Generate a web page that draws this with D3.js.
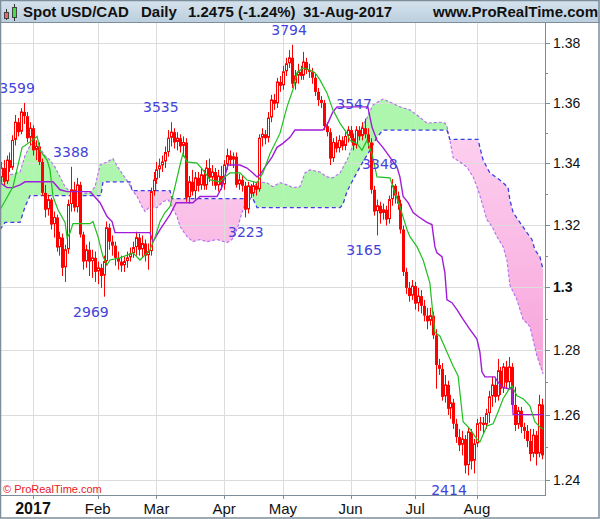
<!DOCTYPE html>
<html><head><meta charset="utf-8">
<script src="https://cdn.jsdelivr.net/npm/d3@7"></script>
<style>html,body{margin:0;padding:0;background:#fff;}svg{display:block;}</style>
</head><body>
<script>
// ---------- DATA ----------
// trading days run from 16-Dec-2016 to 31-Aug-2017 (index 0 = 2-Jan-2017, Dec days negative)
const opens = [1.3352,1.3384,1.3339,1.3410,1.3384,1.3475,1.3535,1.3502,1.3569,1.3555,1.3482,
1.3515,1.3442,1.3455,1.3404,1.3303,1.3248,1.3281,1.3200,1.3223,1.3126,
1.3158,1.3061,1.3119,1.3265,1.3313,1.3255,1.3329,1.3168,1.3081,1.3119,
1.3081,1.3093,1.3048,1.3061,1.3035,1.3081,1.3190,1.3145,1.3132,1.3093,
1.3081,1.3068,1.3081,1.3093,1.3106,1.3126,1.3158,1.3119,1.3139,1.3100,
1.3113,1.3307,1.3345,1.3378,1.3391,1.3404,1.3435,1.3482,1.3502,1.3468,
1.3482,1.3455,1.3468,1.3287,1.3339,1.3307,1.3352,1.3326,1.3362,1.3326,
1.3384,1.3352,1.3371,1.3326,1.3358,1.3329,1.3394,1.3425,1.3410,1.3421,
1.3329,1.3345,1.3326,1.3248,1.3326,1.3300,1.3326,1.3313,1.3482,1.3495,
1.3482,1.3549,1.3609,1.3596,1.3669,1.3656,1.3703,1.3730,1.3750,1.3663,
1.3689,1.3703,1.3689,1.3736,1.3709,1.3703,1.3683,1.3636,1.3609,1.3599,
1.3522,1.3502,1.3415,1.3468,1.3448,1.3475,1.3455,1.3488,1.3509,1.3482,
1.3458,1.3509,1.3488,1.3515,1.3495,1.3468,1.3313,1.3242,1.3261,1.3236,
1.3248,1.3216,1.3281,1.3326,1.3294,1.3268,1.3184,1.3048,1.2997,1.2971,
1.3003,1.2947,1.2971,1.2940,1.2909,1.2891,1.2909,1.2847,1.2754,1.2742,
1.2655,1.2692,1.2618,1.2637,1.2572,1.2531,1.2506,1.2525,1.2444,1.2547,
1.2457,1.2510,1.2572,1.2575,1.2568,1.2603,1.2655,1.2692,1.2655,1.2736,
1.2680,1.2748,1.2699,1.2748,1.2630,1.2568,1.2612,1.2562,1.2550,1.2519,
1.2479,1.2537,1.2479,1.2631];
const highs = [1.3404,1.3410,1.3425,1.3435,1.3492,1.3559,1.3549,1.3582,1.3599,1.3569,1.3535,
1.3525,1.3475,1.3468,1.3415,1.3329,1.3297,1.3287,1.3242,1.3232,1.3177,
1.3171,1.3135,1.3281,1.3388,1.3339,1.3352,1.3339,1.3177,1.3135,1.3145,
1.3119,1.3113,1.3081,1.3074,1.3100,1.3210,1.3203,1.3165,1.3145,1.3113,
1.3100,1.3097,1.3113,1.3126,1.3145,1.3177,1.3171,1.3165,1.3152,1.3139,
1.3320,1.3371,1.3404,1.3415,1.3425,1.3455,1.3509,1.3535,1.3515,1.3502,
1.3495,1.3488,1.3482,1.3358,1.3378,1.3371,1.3371,1.3384,1.3378,1.3410,
1.3415,1.3394,1.3384,1.3378,1.3391,1.3410,1.3448,1.3442,1.3435,1.3435,
1.3365,1.3358,1.3339,1.3339,1.3332,1.3339,1.3339,1.3495,1.3515,1.3509,
1.3569,1.3626,1.3629,1.3683,1.3689,1.3723,1.3750,1.3776,1.3794,1.3709,
1.3730,1.3723,1.3770,1.3750,1.3730,1.3716,1.3696,1.3649,1.3622,1.3609,
1.3535,1.3515,1.3482,1.3488,1.3492,1.3488,1.3502,1.3522,1.3522,1.3498,
1.3522,1.3522,1.3535,1.3547,1.3515,1.3482,1.3326,1.3281,1.3274,1.3268,
1.3261,1.3294,1.3348,1.3332,1.3307,1.3281,1.3197,1.3061,1.3016,1.3022,
1.3016,1.2997,1.2990,1.2959,1.2934,1.2934,1.2922,1.2866,1.2773,1.2760,
1.2723,1.2705,1.2661,1.2649,1.2587,1.2556,1.2550,1.2537,1.2562,1.2556,
1.2525,1.2587,1.2593,1.2593,1.2618,1.2674,1.2717,1.2711,1.2773,1.2748,
1.2760,1.2767,1.2779,1.2760,1.2686,1.2624,1.2624,1.2575,1.2568,1.2556,
1.2556,1.2550,1.2661,1.2649];
const lows = [1.3336,1.3326,1.3332,1.3371,1.3378,1.3458,1.3488,1.3495,1.3529,1.3468,1.3458,
1.3425,1.3410,1.3394,1.3294,1.3223,1.3229,1.3184,1.3158,1.3113,1.3100,
1.3035,1.3016,1.3106,1.3242,1.3242,1.3239,1.3158,1.3055,1.3061,1.3035,
1.3029,1.3016,1.3009,1.2997,1.2969,1.3068,1.3119,1.3100,1.3068,1.3055,
1.3048,1.3048,1.3061,1.3081,1.3093,1.3100,1.3100,1.3093,1.3081,1.3055,
1.3100,1.3294,1.3332,1.3352,1.3371,1.3384,1.3421,1.3455,1.3448,1.3442,
1.3435,1.3421,1.3274,1.3268,1.3294,1.3281,1.3307,1.3313,1.3313,1.3313,
1.3339,1.3326,1.3313,1.3307,1.3313,1.3313,1.3378,1.3391,1.3384,1.3320,
1.3313,1.3307,1.3223,1.3236,1.3287,1.3291,1.3294,1.3307,1.3455,1.3462,
1.3468,1.3535,1.3576,1.3582,1.3636,1.3643,1.3689,1.3716,1.3649,1.3643,
1.3663,1.3676,1.3676,1.3696,1.3683,1.3663,1.3622,1.3589,1.3582,1.3509,
1.3488,1.3394,1.3404,1.3435,1.3435,1.3442,1.3442,1.3468,1.3468,1.3442,
1.3448,1.3475,1.3475,1.3482,1.3448,1.3300,1.3229,1.3165,1.3203,1.3216,
1.3197,1.3203,1.3261,1.3268,1.3248,1.3171,1.3035,1.2978,1.2953,1.2959,
1.2928,1.2922,1.2916,1.2891,1.2866,1.2878,1.2835,1.2680,1.2723,1.2643,
1.2637,1.2599,1.2587,1.2556,1.2513,1.2488,1.2475,1.2420,1.2414,1.2432,
1.2420,1.2500,1.2550,1.2543,1.2556,1.2575,1.2624,1.2637,1.2643,1.2661,
1.2667,1.2680,1.2680,1.2618,1.2550,1.2556,1.2543,1.2525,1.2500,1.2457,
1.2469,1.2444,1.2469,1.2463];
const closes = [1.3384,1.3339,1.3410,1.3384,1.3475,1.3535,1.3502,1.3569,1.3555,1.3482,1.3515,
1.3442,1.3455,1.3404,1.3303,1.3248,1.3281,1.3200,1.3223,1.3126,1.3158,
1.3061,1.3119,1.3265,1.3313,1.3255,1.3329,1.3168,1.3081,1.3119,1.3081,
1.3093,1.3048,1.3061,1.3035,1.3081,1.3190,1.3145,1.3132,1.3093,1.3081,
1.3068,1.3081,1.3093,1.3106,1.3126,1.3158,1.3119,1.3139,1.3100,1.3113,
1.3307,1.3345,1.3378,1.3391,1.3404,1.3435,1.3482,1.3502,1.3468,1.3482,
1.3455,1.3468,1.3287,1.3339,1.3307,1.3352,1.3326,1.3362,1.3326,1.3384,
1.3352,1.3371,1.3326,1.3358,1.3329,1.3394,1.3425,1.3410,1.3421,1.3329,
1.3345,1.3326,1.3248,1.3326,1.3300,1.3326,1.3313,1.3482,1.3495,1.3482,
1.3549,1.3609,1.3596,1.3669,1.3656,1.3703,1.3730,1.3750,1.3663,1.3689,
1.3703,1.3689,1.3736,1.3709,1.3703,1.3683,1.3636,1.3609,1.3599,1.3522,
1.3502,1.3415,1.3468,1.3448,1.3475,1.3455,1.3488,1.3509,1.3482,1.3458,
1.3509,1.3488,1.3515,1.3495,1.3468,1.3313,1.3242,1.3261,1.3236,1.3248,
1.3216,1.3281,1.3326,1.3294,1.3268,1.3184,1.3048,1.2997,1.2971,1.3003,
1.2947,1.2971,1.2940,1.2909,1.2891,1.2909,1.2847,1.2754,1.2742,1.2655,
1.2692,1.2618,1.2637,1.2572,1.2531,1.2506,1.2525,1.2444,1.2547,1.2457,
1.2510,1.2572,1.2575,1.2568,1.2603,1.2655,1.2692,1.2655,1.2736,1.2680,
1.2748,1.2699,1.2748,1.2630,1.2568,1.2612,1.2562,1.2550,1.2519,1.2479,
1.2537,1.2479,1.2631,1.2475];

// Ichimoku lines: [day index (0 = 2-Jan-2017), price]
const tenkan = [[-11.2,1.3248],[-6.8,1.3323],[-3.7,1.3452],[-2.7,1.3458],[-0.3,1.3475],[1.4,1.3488],[2.4,1.3442],[4.8,1.3410],[5.8,1.3378],[6.8,1.3291],[8.5,1.3248],[10.9,1.3207],[11.6,1.3158],[12.6,1.3174],[13.6,1.3203],[19.4,1.3203],[20.4,1.3210],[22.1,1.3161],[23.8,1.3097],[25.2,1.3071],[26.2,1.3086],[29.6,1.3093],[34.0,1.3109],[36.4,1.3086],[38.8,1.3109],[39.8,1.3119],[41.5,1.3158],[43.2,1.3210],[44.9,1.3239],[46.6,1.3258],[48.3,1.3323],[50.0,1.3394],[51.0,1.3431],[52.4,1.3404],[55.8,1.3400],[57.8,1.3378],[60.2,1.3345],[63.6,1.3339],[65.3,1.3355],[67.0,1.3368],[70.4,1.3368],[72.8,1.3345],[76.2,1.3336],[78.2,1.3368],[80.6,1.3431],[84.0,1.3498],[86.4,1.3586],[88.4,1.3643],[89.8,1.3700],[91.8,1.3716],[94.2,1.3709],[95.9,1.3700],[97.6,1.3676],[100.0,1.3632],[102.0,1.3576],[104.4,1.3532],[106.8,1.3498],[107.8,1.3475],[110.2,1.3465],[111.9,1.3442],[113.6,1.3475],[115.3,1.3431],[117.0,1.3355],[121.4,1.3352],[122.4,1.3323],[124.8,1.3258],[127.2,1.3184],[128.2,1.3161],[130.6,1.3129],[132.7,1.3086],[135.0,1.3012],[136.1,1.2906],[136.7,1.2857],[138.4,1.2845],[140.8,1.2795],[142.9,1.2751],[144.6,1.2720],[146.3,1.2578],[148.6,1.2556],[151.0,1.2525],[152.0,1.2516],[154.4,1.2565],[156.5,1.2572],[158.2,1.2609],[159.9,1.2649],[161.6,1.2674],[162.9,1.2689],[164.6,1.2658],[166.7,1.2649],[169.0,1.2627],[170.7,1.2578],[172.4,1.2562],[173.5,1.2556]];
const kijun = [[-11.2,1.3336],[-8.8,1.3320],[-6.8,1.3320],[-4.4,1.3329],[-2.7,1.3339],[6.8,1.3339],[9.2,1.3313],[11.6,1.3307],[19.4,1.3307],[20.4,1.3297],[22.8,1.3271],[25.2,1.3226],[26.9,1.3210],[27.9,1.3174],[39.8,1.3174],[40.8,1.3145],[43.2,1.3184],[46.6,1.3232],[48.7,1.3271],[54.4,1.3271],[56.8,1.3291],[62.6,1.3291],[64.3,1.3323],[66.3,1.3394],[70.4,1.3394],[72.8,1.3384],[74.8,1.3368],[76.2,1.3355],[77.2,1.3362],[78.9,1.3387],[81.3,1.3420],[83.0,1.3452],[85.0,1.3465],[87.4,1.3485],[89.1,1.3509],[98.6,1.3509],[100.3,1.3532],[102.0,1.3569],[103.4,1.3586],[113.9,1.3586],[115.3,1.3519],[117.0,1.3475],[119.0,1.3452],[121.4,1.3420],[123.8,1.3387],[124.8,1.3355],[125.9,1.3291],[127.6,1.3271],[129.3,1.3239],[131.0,1.3226],[134.0,1.3207],[135.7,1.3200],[136.7,1.3129],[137.4,1.3109],[139.1,1.3097],[140.1,1.3045],[140.8,1.2959],[142.5,1.2950],[144.2,1.2928],[146.3,1.2897],[148.6,1.2866],[151.0,1.2835],[152.0,1.2795],[152.7,1.2733],[153.7,1.2717],[157.1,1.2717],[157.8,1.2705],[159.5,1.2686],[161.6,1.2680],[162.9,1.2680],[163.3,1.2600],[173.5,1.2600]];
const spanA = [[-11.2,1.3362],[-7.8,1.3362],[-4.4,1.3371],[-2.7,1.3425],[-1.0,1.3458],[0.7,1.3468],[2.4,1.3448],[4.1,1.3425],[5.8,1.3410],[7.5,1.3387],[9.2,1.3355],[10.9,1.3323],[12.6,1.3307],[16.0,1.3300],[19.4,1.3303],[21.1,1.3323],[22.8,1.3394],[25.2,1.3404],[27.2,1.3415],[28.9,1.3387],[30.6,1.3362],[32.3,1.3339],[33.7,1.3313],[35.4,1.3291],[37.1,1.3258],[38.1,1.3242],[39.8,1.3258],[42.2,1.3255],[44.2,1.3274],[45.9,1.3281],[46.6,1.3271],[49.0,1.3226],[50.0,1.3194],[52.4,1.3161],[54.4,1.3145],[56.8,1.3152],[59.2,1.3145],[62.6,1.3152],[66.0,1.3142],[67.7,1.3152],[69.4,1.3184],[71.1,1.3239],[72.1,1.3265],[73.8,1.3281],[74.8,1.3313],[76.2,1.3339],[79.6,1.3336],[81.6,1.3323],[84.0,1.3336],[86.4,1.3329],[88.4,1.3320],[90.8,1.3323],[92.5,1.3368],[94.2,1.3378],[97.6,1.3371],[100.0,1.3355],[102.0,1.3352],[104.4,1.3368],[106.8,1.3410],[108.8,1.3458],[111.2,1.3509],[113.6,1.3549],[115.6,1.3592],[118.0,1.3606],[119.0,1.3612],[121.4,1.3602],[124.8,1.3586],[128.2,1.3576],[130.6,1.3559],[134.0,1.3532],[138.4,1.3535],[140.1,1.3532],[140.8,1.3522],[141.8,1.3475],[142.9,1.3418],[145.2,1.3404],[147.6,1.3387],[149.7,1.3355],[151.4,1.3313],[153.1,1.3258],[154.4,1.3216],[156.1,1.3194],[157.8,1.3161],[159.9,1.3129],[161.2,1.3086],[162.2,1.3006],[164.6,1.2959],[166.7,1.2897],[169.0,1.2875],[171.4,1.2782],[173.5,1.2726]];
const spanB = [[-11.2,1.3184],[-9.5,1.3207],[-4.4,1.3207],[-2.7,1.3258],[-1.0,1.3294],[23.1,1.3294],[23.8,1.3339],[33.0,1.3339],[33.7,1.3310],[46.6,1.3310],[47.3,1.3284],[74.8,1.3284],[76.2,1.3255],[104.4,1.3255],[105.4,1.3265],[106.8,1.3307],[108.8,1.3345],[111.2,1.3387],[112.2,1.3404],[114.6,1.3442],[117.0,1.3485],[119.0,1.3509],[140.8,1.3509],[141.8,1.3478],[151.4,1.3478],[152.0,1.3452],[153.1,1.3410],[155.4,1.3368],[157.8,1.3352],[159.9,1.3336],[161.6,1.3320],[162.2,1.3281],[163.3,1.3239],[165.6,1.3207],[168.0,1.3174],[169.7,1.3152],[170.7,1.3119],[172.4,1.3097],[173.5,1.3055]];

// high / low annotations
const hlText  = ["3599","3388","3535","2969","3223","3794","3547","3348","3165","2414"];
const hlValue = [1.3599,1.3388,1.3535,1.2969,1.3223,1.3794,1.3547,1.3348,1.3165,1.2414];
const hlDay   = [-5.4,12.9,43.5,19.7,72.4,87.1,109.2,118.0,112.6,141.5];
const hlIsHigh= [true,true,true,false,false,true,true,true,false,false];

const priceTicks = [1.24,1.26,1.28,1.30,1.32,1.34,1.36,1.38];
const priceTickLabels = ["1.24","1.26","1.28","1.3","1.32","1.34","1.36","1.38"];
const minorTicks = [1.25,1.27,1.29,1.31,1.33,1.35,1.37];
const monthLabels = ["2017","Feb","Mar","Apr","May","Jun","Jul","Aug"];
const headerTexts = ["Spot USD/CAD","Daily","1.2475 (-1.24%)","31-Aug-2017","www.ProRealTime.com"];

// ---------- CALENDAR ----------
const dates = [];
for (let d = new Date(2016,11,16); d <= new Date(2017,7,31); d.setDate(d.getDate()+1)) {
  if (d.getDay() !== 0 && d.getDay() !== 6) dates.push(new Date(d));
}
const jan2 = dates.findIndex(d => d.getFullYear() === 2017);
const monthStarts = [];
dates.forEach((d,k) => { if (k>0 && d.getMonth() !== dates[k-1].getMonth()) monthStarts.push(k - jan2); });

// ---------- SCALES ----------
const W = 600, H = 519;
const PL = 0, PR = 545, PT = 23, PB = 495;
const x = d3.scaleLinear().domain([-11.22, 174.15]).range([PL, PR]);
const y = d3.scaleLog().domain([1.38, 1.24]).range([43, 480]);

const svg = d3.select("body").append("svg").attr("width", W).attr("height", H)
  .style("font-family", "'Liberation Sans', Arial, sans-serif");

const defs = svg.append("defs");
const hg = defs.append("linearGradient").attr("id","hdr").attr("x1",0).attr("y1",0).attr("x2",0).attr("y2",1);
hg.append("stop").attr("offset","0%").attr("stop-color","#d6e3ed");
hg.append("stop").attr("offset","100%").attr("stop-color","#bccfde");
const pg = defs.append("linearGradient").attr("id","pinkg").attr("gradientUnits","userSpaceOnUse")
  .attr("x1",0).attr("y1",120).attr("x2",0).attr("y2",380);
pg.append("stop").attr("offset","0%").attr("stop-color","#fdd2f0");
pg.append("stop").attr("offset","100%").attr("stop-color","#f7a2da");
defs.append("clipPath").attr("id","plotclip").append("rect")
  .attr("x",PL).attr("y",PT).attr("width",PR-PL).attr("height",PB-PT);

svg.append("rect").attr("width",W).attr("height",H).attr("fill","#fff");

// ---------- PLOT ----------
const plot = svg.append("g").attr("clip-path","url(#plotclip)");
const lineGen = d3.line().x(d => x(d[0])).y(d => y(d[1]));

// cloud
const pA = lineGen(spanA);
const pBrev = lineGen(spanB.slice().reverse());
const cloudD = pA + "L" + pBrev.slice(1) + "Z";
const pB = lineGen(spanB);
const x0 = x(spanB[0][0]), x1 = x(spanB[spanB.length-1][0]);
defs.append("clipPath").attr("id","aboveB").append("path")
  .attr("d", pB + `L${x1+5},${y(spanB[spanB.length-1][1])}L${x1+5},0L${x0-5},0L${x0-5},${y(spanB[0][1])}Z`);
defs.append("clipPath").attr("id","belowB").append("path")
  .attr("d", pB + `L${x1+5},${y(spanB[spanB.length-1][1])}L${x1+5},${H}L${x0-5},${H}L${x0-5},${y(spanB[0][1])}Z`);
plot.append("g").attr("clip-path","url(#aboveB)").append("path").attr("d",cloudD).attr("fill","#aef5ae");
plot.append("g").attr("clip-path","url(#belowB)").append("path").attr("d",cloudD).attr("fill","url(#pinkg)");

// grid
plot.append("g").selectAll("line").data(priceTicks).join("line")
  .attr("x1",PL).attr("x2",PR).attr("y1",d=>Math.round(y(d))+0.5).attr("y2",d=>Math.round(y(d))+0.5)
  .attr("stroke","#dcdcdc").attr("stroke-width",1);
plot.append("g").selectAll("line").data(monthStarts).join("line")
  .attr("x1",d=>Math.round(x(d))+0.5).attr("x2",d=>Math.round(x(d))+0.5).attr("y1",PT).attr("y2",PB)
  .attr("stroke","#dcdcdc").attr("stroke-width",1);

// span lines
plot.append("path").attr("d",pA).attr("fill","none").attr("stroke","#b46ef0").attr("stroke-width",1.1).attr("stroke-dasharray","3,2");
plot.append("path").attr("d",pB).attr("fill","none").attr("stroke","#3d3de6").attr("stroke-width",1.3).attr("stroke-dasharray","4,3");

// candles
const candles = plot.append("g");
closes.forEach((c,k) => {
  const i = k - jan2;
  const cx = Math.round(x(i)) + 0.5;
  const o = opens[k], h = highs[k], l = lows[k];
  candles.append("line").attr("x1",cx).attr("x2",cx).attr("y1",y(h)).attr("y2",y(l))
    .attr("stroke","#ff0000").attr("stroke-width",1);
  const top = y(Math.max(o,c)), bot = y(Math.min(o,c));
  const hgt = Math.max(1, bot - top);
  if (c >= o) {
    candles.append("rect").attr("x",cx-1).attr("y",top).attr("width",2).attr("height",Math.max(0.5,hgt-1))
      .attr("fill","#fff").attr("stroke","#ff0000").attr("stroke-width",1);
  } else {
    candles.append("rect").attr("x",cx-1.5).attr("y",top).attr("width",3).attr("height",hgt)
      .attr("fill","#ff0000");
  }
});

// kijun / tenkan
plot.append("path").attr("d",lineGen(kijun)).attr("fill","none").attr("stroke","#a01cd8").attr("stroke-width",1.4);
plot.append("path").attr("d",lineGen(tenkan)).attr("fill","none").attr("stroke","#1fbf1f").attr("stroke-width",1.2);

// annotations
plot.append("g").selectAll("text").data(hlText).join("text")
  .attr("x",(d,j)=>x(hlDay[j]))
  .attr("y",(d,j)=> hlIsHigh[j] ? y(hlValue[j]) - 10 : y(hlValue[j]) + 20)
  .attr("text-anchor","middle")
  .style("font-family","'DejaVu Sans', sans-serif").style("font-size","14px")
  .attr("fill","#4343dc").text(d=>d);

// copyright
svg.append("text").attr("x",3).attr("y",493).attr("fill","#e8201c")
  .style("font-size","11px").text("\u00a9 ProRealTime.com");

// ---------- AXES ----------
const axisCol = "#7d8d9a";
svg.append("line").attr("x1",PR+0.5).attr("x2",PR+0.5).attr("y1",PT).attr("y2",PB+1).attr("stroke",axisCol);
svg.append("line").attr("x1",0).attr("x2",PR+1).attr("y1",PB+0.5).attr("y2",PB+0.5).attr("stroke",axisCol);
svg.append("g").selectAll("line").data(priceTicks).join("line")
  .attr("x1",PR).attr("x2",PR+5).attr("y1",d=>Math.round(y(d))+0.5).attr("y2",d=>Math.round(y(d))+0.5).attr("stroke",axisCol);
svg.append("g").selectAll("line").data(minorTicks).join("line")
  .attr("x1",PR).attr("x2",PR+3).attr("y1",d=>Math.round(y(d))+0.5).attr("y2",d=>Math.round(y(d))+0.5).attr("stroke",axisCol);
svg.append("g").selectAll("text").data(priceTicks).join("text")
  .attr("x",553).attr("y",d=>y(d)+5).style("font-size","14px")
  .style("font-weight",(d,j)=>priceTickLabels[j]==="1.3"?"bold":"normal")
  .attr("fill","#111").text((d,j)=>priceTickLabels[j]);

svg.append("g").selectAll("line").data(monthStarts).join("line")
  .attr("x1",d=>Math.round(x(d))+0.5).attr("x2",d=>Math.round(x(d))+0.5).attr("y1",PB).attr("y2",PB+4).attr("stroke",axisCol);
svg.append("g").selectAll("text").data(monthStarts).join("text")
  .attr("x",d=>x(d)).attr("y",514).attr("text-anchor","middle")
  .style("font-size",(d,j)=>j===0?"16px":"15px").style("font-weight",(d,j)=>j===0?"bold":"normal")
  .attr("fill","#111").text((d,j)=>monthLabels[j]);

// ---------- HEADER ----------
svg.append("rect").attr("x",0).attr("y",0).attr("width",W).attr("height",22).attr("fill","url(#hdr)");
svg.append("line").attr("x1",0).attr("x2",W).attr("y1",22.5).attr("y2",22.5).attr("stroke",axisCol);
const icon = svg.append("g");
icon.append("line").attr("x1",6.5).attr("x2",6.5).attr("y1",9).attr("y2",20).attr("stroke","#333");
icon.append("rect").attr("x",4.5).attr("y",12.5).attr("width",4).attr("height",6).attr("fill","#ee6666").attr("stroke","#444");
icon.append("line").attr("x1",14.5).attr("x2",14.5).attr("y1",4).attr("y2",21).attr("stroke","#333");
icon.append("rect").attr("x",12.5).attr("y",7.5).attr("width",4).attr("height",10).attr("fill","#44dd44").attr("stroke","#444");
const hx = [23,141,188,303,433];
svg.append("g").selectAll("text").data(headerTexts).join("text")
  .attr("x",(d,j)=>hx[j]).attr("y",17).style("font-size","15px").style("font-weight","bold")
  .attr("fill","#111").text(d=>d);

// outer frame
svg.append("rect").attr("x",0.5).attr("y",0.5).attr("width",W-1.5).attr("height",H-1.5)
  .attr("fill","none").attr("stroke",axisCol).attr("stroke-width",1.5);
</script>
</body></html>
